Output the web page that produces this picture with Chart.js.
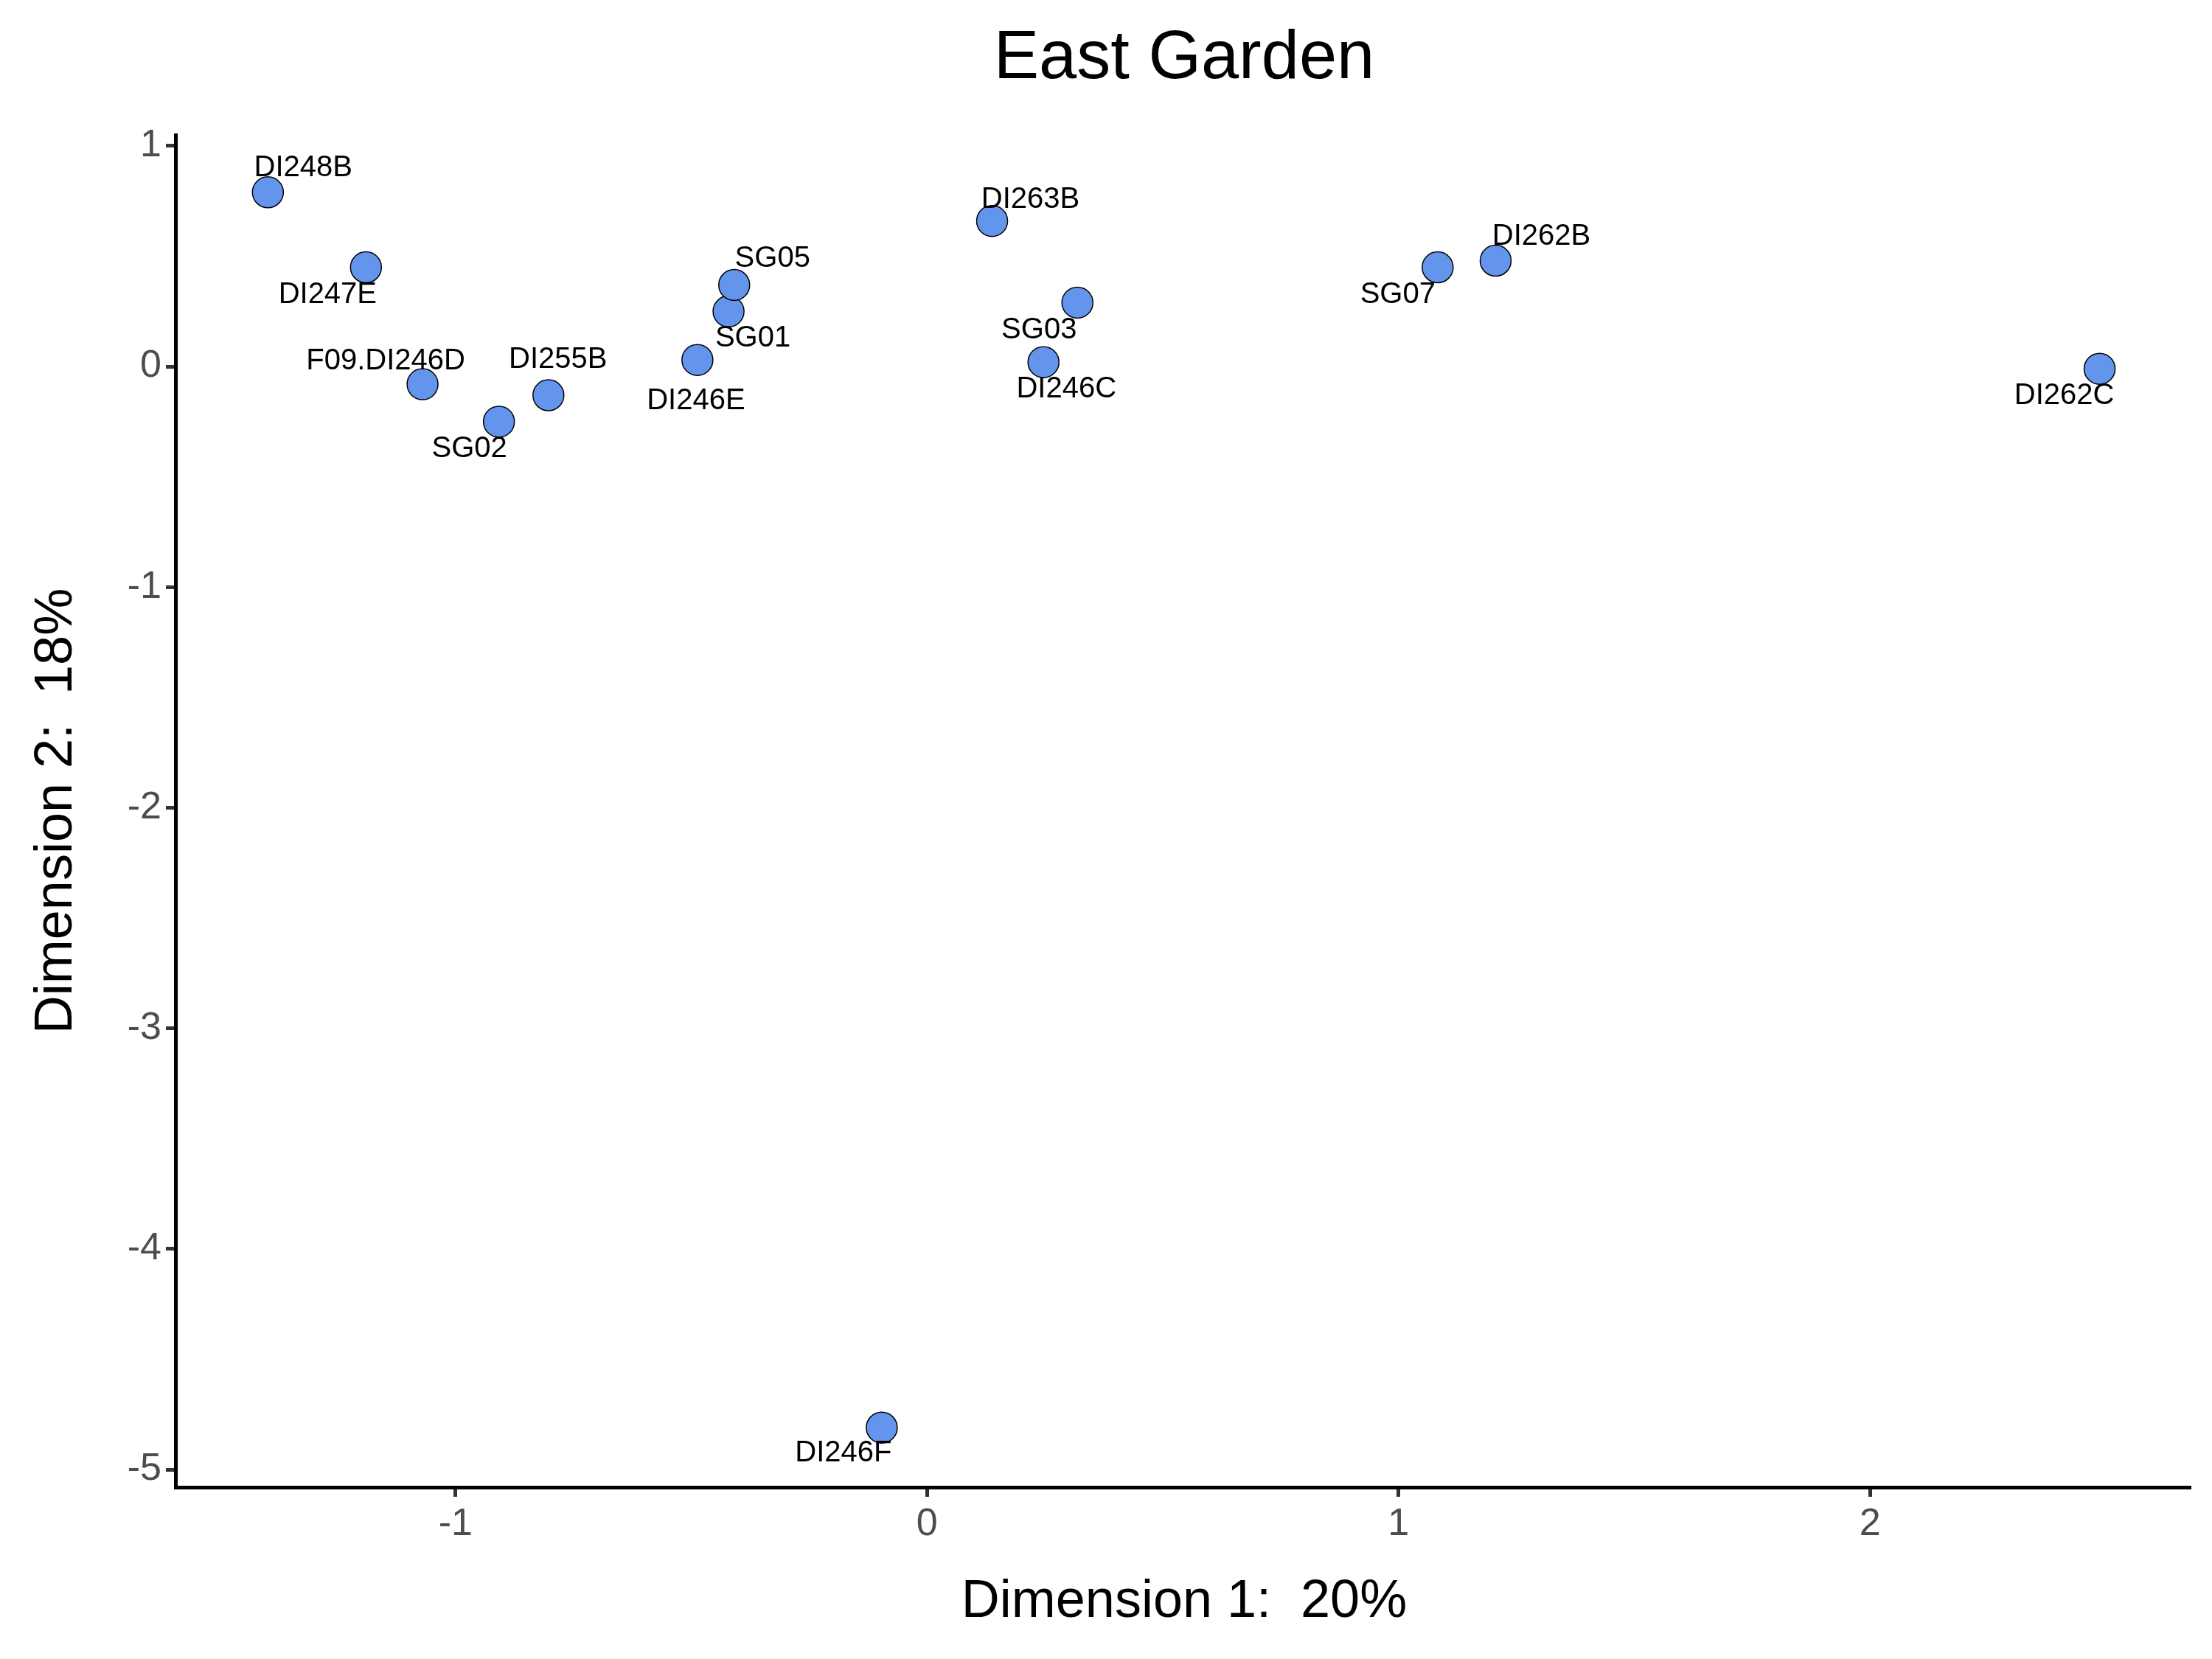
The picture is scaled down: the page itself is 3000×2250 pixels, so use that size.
<!DOCTYPE html>
<html>
<head>
<meta charset="utf-8">
<script src="https://cdn.jsdelivr.net/npm/chart.js@4"></script>
<style>
  html, body { margin: 0; padding: 0; background: #fff; }
  #wrap { width: 3000px; height: 2250px; }
</style>
</head>
<body>
<div id="wrap"><canvas id="mds" width="3000" height="2250"></canvas></div>
<script>
// Sample names and MDS coordinates
const samples = ['DI248B', 'DI247E', 'F09.DI246D', 'SG02', 'DI255B', 'DI246E', 'SG01', 'SG05',
                 'DI263B', 'SG03', 'DI246C', 'SG07', 'DI262B', 'DI262C', 'DI246F'];
const dim1 = [-1.398, -1.19, -1.07, -0.908, -0.803, -0.487, -0.421, -0.409,
              0.138, 0.319, 0.247, 1.083, 1.206, 2.487, -0.096];
const dim2 = [0.79, 0.45, -0.08, -0.25, -0.13, 0.03, 0.25, 0.37,
              0.66, 0.29, 0.02, 0.45, 0.48, -0.01, -4.81];
const xTicks = [-1, 0, 1, 2];
const yTicks = [1, 0, -1, -2, -3, -4, -5];

// label offsets from the point (in px), like ggrepel placed them
const labelOffsets = [[48, -33], [-52, 37], [-50, -31], [-40, 37], [13, -48], [-2, 56], [33, 37], [52, -35],
                      [52, -29], [-52, 38], [31, 37], [-54, 37], [62, -33], [-48, 37], [-52, 35]];

const points = samples.map((s, i) => ({ x: dim1[i], y: dim2[i] }));

const textPlugin = {
    id: 'textPlugin',
    afterDatasetsDraw(chart) {
        const c = chart.ctx;
        const meta = chart.getDatasetMeta(0);
        c.save();
        c.fillStyle = '#000';
        c.textAlign = 'center';
        c.textBaseline = 'middle';
        c.font = '40px "Liberation Sans", Arial, sans-serif';
        meta.data.forEach((el, i) => {
            c.fillText(samples[i], el.x + labelOffsets[i][0], el.y + labelOffsets[i][1]);
        });
        // title and axis titles
        c.font = '92px "Liberation Sans", Arial, sans-serif';
        c.fillText('East Garden', 1606, 81);
        c.font = '72px "Liberation Sans", Arial, sans-serif';
        c.fillText('Dimension 1:  20%', 1606, 2173);
        c.translate(77, 1100);
        c.rotate(-Math.PI / 2);
        c.fillText('Dimension 2:  18%', 0, 0);
        c.restore();
    }
};

new Chart(document.getElementById('mds'), {
    type: 'scatter',
    data: {
        datasets: [{
            data: points,
            backgroundColor: '#6495ED',
            borderColor: '#000',
            borderWidth: 1.5,
            pointRadius: 21,
            pointHoverRadius: 21
        }]
    },
    options: {
        responsive: false,
        animation: false,
        devicePixelRatio: 1,
        layout: { padding: { top: 183, right: 29, left: 0, bottom: 0 } },
        plugins: { legend: { display: false }, title: { display: false }, tooltip: { enabled: false } },
        scales: {
            x: {
                min: -1.594, max: 2.68,
                afterFit(scale) { scale.height = 233; },
                afterBuildTicks(scale) { scale.ticks = xTicks.map(v => ({ value: v })); },
                grid: { drawOnChartArea: false, tickLength: 13, tickWidth: 5, color: '#333' },
                border: { color: '#000', width: 5 },
                ticks: { color: '#4d4d4d', font: { size: 52, family: '"Liberation Sans", Arial' }, padding: 6 }
            },
            y: {
                min: -5.08, max: 1.05,
                afterFit(scale) { scale.width = 238; },
                afterBuildTicks(scale) { scale.ticks = yTicks.map(v => ({ value: v })); },
                grid: { drawOnChartArea: false, tickLength: 13, tickWidth: 5, color: '#333' },
                border: { color: '#000', width: 5 },
                ticks: { color: '#4d4d4d', font: { size: 52, family: '"Liberation Sans", Arial' }, padding: 6 }
            }
        }
    },
    plugins: [textPlugin]
});
</script>
</body>
</html>
